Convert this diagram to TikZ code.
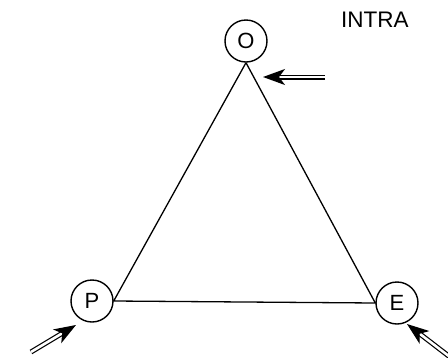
\documentclass[tikz,border=0pt]{standalone}
\usepackage{fontspec}
\setmainfont{Liberation Sans}
\usetikzlibrary{arrows.meta,positioning,calc}
\tikzset{
  vbox/.style={draw,circle,line width=1.4pt,minimum size=42pt,inner sep=0pt,
    font=\fontsize{22}{24}\selectfont},
  tside/.style={line width=1.3pt},
  darr/.style={double,double distance=2.6pt,line width=1.2pt,
    -{Stealth[length=22pt,width=16pt,inset=6pt]}},
}

\begin{document}
\begin{tikzpicture}[x=1pt,y=-1pt]
  \useasboundingbox (0,0) rectangle (448,357);
  \node[vbox] (o) at (246,41) {O};
  \node[vbox] (p) at (92,301) {P};
  \node[vbox] (e) at (397,303) {E};
  \node[font=\fontsize{22.5}{24}\selectfont,anchor=west,inner sep=0pt] (intra) at (341,20) {INTRA};
  % triangle
  \draw[tside] (o.south) -- (p.east) -- (e.west) -- (o.south);
  % incoming arrows
  \coordinate (otail) at (325,77);
  \coordinate (ohead) at (263,77);
  \coordinate (ptail) at (31,352);
  \coordinate (phead) at (76,325);
  \coordinate (etail) at (450,357);
  \coordinate (ehead) at (407,324);
  \draw[darr] (otail) -- (ohead);
  \draw[darr] (ptail) -- (phead);
  \draw[darr] (etail) -- (ehead);
\end{tikzpicture}
\end{document}
